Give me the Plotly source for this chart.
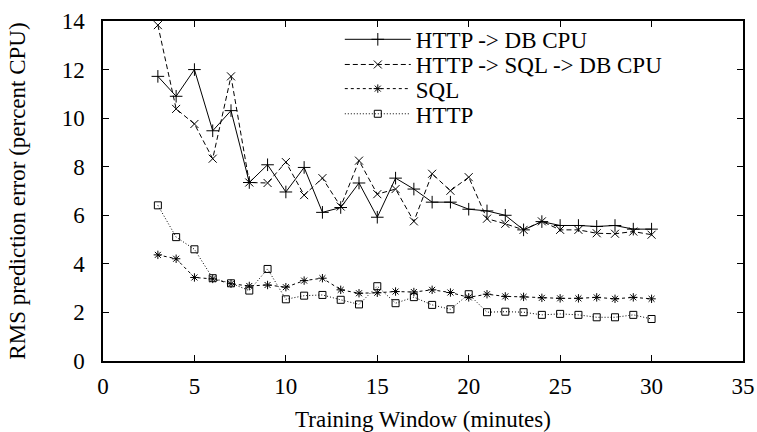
import plotly.graph_objects as go

x_vals = list(range(3, 31))

http_db_cpu = [11.72, 10.9, 12.0, 9.48, 10.31, 7.35, 8.08, 6.96, 7.97, 6.12,
               6.32, 7.33, 5.92, 7.53, 7.08, 6.54, 6.54, 6.25, 6.18, 6.0,
               5.40, 5.74, 5.58, 5.58, 5.54, 5.58, 5.43, 5.43]
http_sql_db_cpu = [13.83, 10.38, 9.76, 8.33, 11.72, 7.35, 7.33, 8.19, 6.83, 7.53,
                   6.36, 8.25, 6.87, 7.08, 5.75, 7.71, 7.01, 7.57, 5.86, 5.65,
                   5.40, 5.75, 5.40, 5.40, 5.26, 5.24, 5.33, 5.20]
sql = [4.37, 4.21, 3.44, 3.38, 3.18, 3.09, 3.13, 3.04, 3.31, 3.41,
       2.93, 2.79, 2.81, 2.86, 2.84, 2.93, 2.82, 2.62, 2.75, 2.66,
       2.64, 2.60, 2.58, 2.58, 2.62, 2.56, 2.62, 2.56]
http = [6.41, 5.10, 4.60, 3.41, 3.20, 2.90, 3.79, 2.54, 2.69, 2.72,
        2.52, 2.33, 3.08, 2.38, 2.63, 2.31, 2.13, 2.75, 2.01, 2.03,
        2.01, 1.90, 1.94, 1.90, 1.80, 1.80, 1.90, 1.73]

series_names = ["HTTP -> DB CPU", "HTTP -> SQL -> DB CPU", "SQL", "HTTP"]
x_ticks = [0, 5, 10, 15, 20, 25, 30, 35]
y_ticks = [0, 2, 4, 6, 8, 10, 12, 14]

FONT = "Liberation Serif"
TEXT_SIZE = 23
TICK_SIZE = 23

fig = go.Figure()
styles = [
    (http_db_cpu, "solid", "cross-thin-open", 9),
    (http_sql_db_cpu, "5px,3px", "x-thin-open", 8),
    (sql, "3px,3px", "asterisk-open", 7),
    (http, "1px,2px", "square-open", 7),
]
legend_ids = ["legend", "legend2", "legend3", "legend4"]
legend_rows = [0.946, 0.872, 0.801, 0.727]

for name, (vals, dash, sym, size), lid in zip(series_names, styles, legend_ids):
    fig.add_trace(go.Scatter(
        x=x_vals, y=vals, name=name, mode="lines+markers",
        line=dict(color="black", width=1, dash=dash),
        marker=dict(symbol=sym, size=size, color="black",
                    line=dict(color="black", width=1)),
        legend=lid,
    ))

axis_common = dict(
    showline=True, linecolor="black", linewidth=1.5, mirror="ticks",
    ticks="inside", ticklen=6, tickcolor="black", tickwidth=1,
    showgrid=False, zeroline=False, automargin=False,
    tickfont=dict(family=FONT, size=TICK_SIZE, color="black"),
)

fig.update_xaxes(range=[0, 35], tickvals=x_ticks, ticktext=[str(v) for v in x_ticks],
                 title=dict(text="Training Window (minutes)",
                            font=dict(family=FONT, size=TEXT_SIZE, color="black"), standoff=18),
                 ticklabelstandoff=4,
                 **axis_common)
fig.update_yaxes(range=[0, 14], tickvals=y_ticks, ticktext=[str(v) for v in y_ticks],
                 title=dict(text="RMS prediction error (percent CPU)",
                            font=dict(family=FONT, size=TEXT_SIZE, color="black"), standoff=30),
                 ticklabelstandoff=12,
                 **axis_common)

legend_layout = {}
for lid, ly in zip(legend_ids, legend_rows):
    legend_layout[lid] = dict(
        x=0.37, y=ly, xanchor="left", yanchor="middle",
        bgcolor="rgba(0,0,0,0)", borderwidth=0,
        font=dict(family=FONT, size=TEXT_SIZE, color="black"),
        itemwidth=66, tracegroupgap=0,
    )

fig.update_layout(
    width=757, height=432,
    margin=dict(l=103, r=14, t=21, b=71, autoexpand=False),
    paper_bgcolor="white", plot_bgcolor="white",
    font=dict(family=FONT, size=TEXT_SIZE, color="black"),
    showlegend=True,
    **legend_layout,
)

fig.write_html(
    "out.html",
    config={"displayModeBar": False},
    post_script="document.body.style.margin='0';document.body.style.overflow='hidden';",
)
